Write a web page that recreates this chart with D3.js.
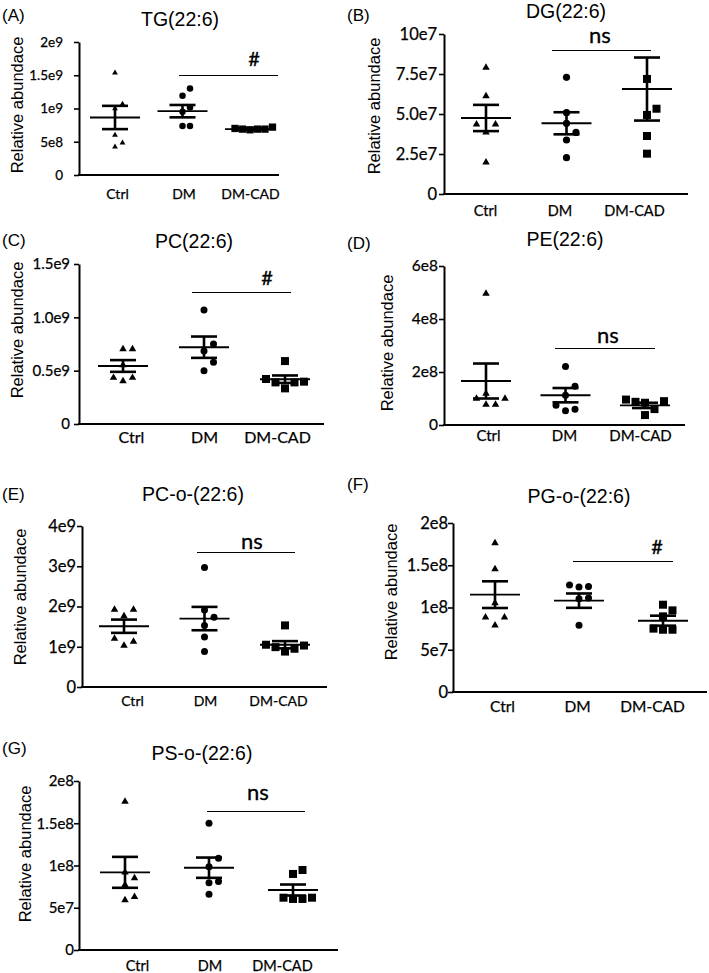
<!DOCTYPE html>
<html><head><meta charset="utf-8">
<script src="https://cdn.jsdelivr.net/npm/d3@7"></script>
<style>body{margin:0;background:#fff}</style>
</head><body><svg id="c" width="709" height="973"></svg>
<script>
const groups = ["Ctrl", "DM", "DM-CAD"];
const yLabel = "Relative abundace";

// (A) TG(22:6)
const tgCtrl = [1.535e9, 1.065e9, 1.0e9, 0.6e9, 0.425e9, 0.485e9];
const tgDM = [1.3e9, 1.19e9, 1.015e9, 0.95e9, 0.735e9, 0.735e9];
const tgCAD = [0.69e9, 0.69e9, 0.72e9, 0.68e9, 0.69e9, 0.70e9];
const tgMean = [0.865e9, 0.96e9, 0.69e9];
const tgSem = [0.175e9, 0.093e9, 0.015e9];
const tgTicks = [0, 5e8, 1e9, 1.5e9, 2e9];
const tgTickLabels = ["0", "5e8", "1e9", "1.5e9", "2e9"];

// (B) DG(22:6)
const dgCtrl = [7.9e7, 6.125e7, 4.35e7, 4.35e7, 3.85e7, 1.98e7];
const dgDM = [7.29e7, 5.08e7, 4.42e7, 3.85e7, 3.375e7, 2.27e7];
const dgCAD = [7.19e7, 5.33e7, 4.94e7, 3.625e7, 2.52e7];
const dgMean = [4.75e7, 4.42e7, 6.56e7];
const dgSem = [0.82e7, 0.69e7, 1.97e7];
const dgTicks = [0, 2.5e7, 5e7, 7.5e7, 10e7];
const dgTickLabels = ["0", "2.5e7", "5.0e7", "7.5e7", "10e7"];

// (C) PC(22:6)
const pcCtrl = [0.703e9, 0.703e9, 0.553e9, 0.434e9, 0.434e9, 0.403e9];
const pcDM = [1.069e9, 0.75e9, 0.684e9, 0.578e9, 0.5e9];
const pcCAD = [0.59e9, 0.422e9, 0.397e9, 0.39e9, 0.39e9, 0.334e9];
const pcMean = [0.544e9, 0.72e9, 0.42e9];
const pcSem = [0.055e9, 0.1e9, 0.035e9];
const pcTicks = [0, 0.5e9, 1.0e9, 1.5e9];
const pcTickLabels = ["0", "0.5e9", "1.0e9", "1.5e9"];

// (D) PE(22:6)
const peCtrl = [4.96e8, 1.19e8, 1.0e8, 1.0e8, 0.775e8, 0.775e8];
const peDM = [2.21e8, 1.46e8, 1.125e8, 0.75e8, 0.54e8, 0.59e8];
const peCAD = [0.96e8, 0.9e8, 0.84e8, 0.875e8, 0.6e8, 0.375e8];
const peMean = [1.66e8, 1.125e8, 0.74e8];
const peSem = [0.66e8, 0.27e8, 0.1e8];
const peTicks = [0, 2e8, 4e8, 6e8];
const peTickLabels = ["0", "2e8", "4e8", "6e8"];

// (E) PC-o-(22:6)
const pcoCtrl = [1.925e9, 1.925e9, 1.76e9, 1.2e9, 1.13e9, 1.03e9];
const pcoDM = [2.97e9, 1.91e9, 1.73e9, 1.53e9, 1.24e9, 0.88e9];
const pcoCAD = [1.53e9, 1.05e9, 0.99e9, 0.95e9, 1.03e9, 0.88e9];
const pcoMean = [1.51e9, 1.7e9, 1.05e9];
const pcoSem = [0.165e9, 0.29e9, 0.09e9];
const pcoTicks = [0, 1e9, 2e9, 3e9, 4e9];
const pcoTickLabels = ["0", "1e9", "2e9", "3e9", "4e9"];

// (F) PG-o-(22:6)
const pgoCtrl = [1.763e8, 1.456e8, 1.053e8, 0.884e8, 0.884e8, 0.789e8];
const pgoDM = [1.266e8, 1.243e8, 1.25e8, 1.112e8, 1.104e8, 0.789e8];
const pgoCAD = [1.033e8, 0.966e8, 0.895e8, 0.75e8, 0.737e8, 0.737e8];
const pgoMean = [1.152e8, 1.081e8, 0.844e8];
const pgoSem = [0.158e8, 0.085e8, 0.059e8];
const pgoTicks = [0, 5e7, 1e8, 1.5e8, 2e8];
const pgoTickLabels = ["0", "5e7", "1e8", "1.5e8", "2e8"];

// (G) PS-o-(22:6)
const psoCtrl = [1.755e8, 0.92e8, 0.85e8, 0.77e8, 0.59e8, 0.63e8];
const psoDM = [1.5e8, 1.085e8, 0.986e8, 0.81e8, 0.797e8, 0.659e8];
const psoCAD = [0.947e8, 0.9e8, 0.619e8, 0.604e8, 0.604e8, 0.619e8];
const psoMean = [0.919e8, 0.974e8, 0.71e8];
const psoSem = [0.183e8, 0.12e8, 0.065e8];
const psoTicks = [0, 5e7, 1e8, 1.5e8, 2e8];
const psoTickLabels = ["0", "5e7", "1e8", "1.5e8", "2e8"];

const panels = [
  {tag:"(A)", title:"TG(22:6)", pts:[tgCtrl,tgDM,tgCAD], mean:tgMean, sem:tgSem, ticks:tgTicks, tl:tgTickLabels, sig:"#",
   L:{x0:79,x1:279,yT:42,yB:175,pt:[115,250],lb:[117,250],tp:11,tf:13.5,xf:14,xdy:24,tx:180,ty:26,gx:2,gy:21,lx:23,ly:105,s:[179,278,75,254,66],tri:5.8,cir:6.5,sq:7.3,sp:7.5}},
  {tag:"(B)", title:"DG(22:6)", pts:[dgCtrl,dgDM,dgCAD], mean:dgMean, sem:dgSem, ticks:dgTicks, tl:dgTickLabels, sig:"ns",
   L:{x0:444,x1:688,yT:34,yB:194,pt:[486,647],lb:[485,634],tp:2,tf:16.5,xf:14.5,xdy:22,tx:566,ty:18,gx:347,gy:21,lx:380,ly:106,s:[552,651,50,600,43],tri:7.5,cir:7.2,sq:8,sp:9.5}},
  {tag:"(C)", title:"PC(22:6)", pts:[pcCtrl,pcDM,pcCAD], mean:pcMean, sem:pcSem, ticks:pcTicks, tl:pcTickLabels, sig:"#",
   L:{x0:79,x1:324,yT:264,yB:424,pt:[123,285],lb:[131,277],tp:4,tf:15,xf:16,xdy:19,tx:194,ty:248,gx:2,gy:246,lx:23,ly:330,s:[192,291,292,267,285],tri:7.5,cir:7,sq:8,sp:9.5}},
  {tag:"(D)", title:"PE(22:6)", pts:[peCtrl,peDM,peCAD], mean:peMean, sem:peSem, ticks:peTicks, tl:peTickLabels, sig:"ns",
   L:{x0:444,x1:685,yT:266,yB:425,pt:[486,645],lb:[488,640],tp:1,tf:15.5,xf:15,xdy:16,tx:565,ty:246,gx:347,gy:249,lx:393,ly:343,s:[555,655,348,608,343],tri:7.5,cir:7,sq:8,sp:9.5}},
  {tag:"(E)", title:"PC-o-(22:6)", pts:[pcoCtrl,pcoDM,pcoCAD], mean:pcoMean, sem:pcoSem, ticks:pcoTicks, tl:pcoTickLabels, sig:"ns",
   L:{x0:82,x1:327,yT:526,yB:687,pt:[124,285],lb:[132,278],tp:1,tf:16.5,xf:14,xdy:19,tx:193,ty:501,gx:2,gy:500,lx:26,ly:597,s:[197,295,552,252,549],tri:7.5,cir:7,sq:8,sp:9.5}},
  {tag:"(F)", title:"PG-o-(22:6)", pts:[pgoCtrl,pgoDM,pgoCAD], mean:pgoMean, sem:pgoSem, ticks:pgoTicks, tl:pgoTickLabels, sig:"#",
   L:{x0:453,x1:707,yT:523,yB:692,pt:[495,663],lb:[502,652],tp:0,tf:16.5,xf:15.5,xdy:20,tx:579,ty:503,gx:347,gy:490,lx:397,ly:592,s:[573,673,561,657,554],tri:7.5,cir:7,sq:8,sp:9.5}},
  {tag:"(G)", title:"PS-o-(22:6)", pts:[psoCtrl,psoDM,psoCAD], mean:psoMean, sem:psoSem, ticks:psoTicks, tl:psoTickLabels, sig:"ns",
   L:{x0:79,x1:338,yT:781,yB:950,pt:[125,293],lb:[137,282],tp:0,tf:15,xf:14.5,xdy:21,tx:202,ty:760,gx:2,gy:754,lx:31,ly:854,s:[207,305,811,258,800],tri:7.5,cir:7,sq:8,sp:9.5}}
];

const svg = d3.select("#c");
svg.append("rect").attr("width",709).attr("height",973).attr("fill","#fff");
const ARIAL = "'Liberation Sans', Arial, sans-serif";
const CAL = "Lato, 'Open Sans', sans-serif";

function jitter(vals, y, sp, hh) {
  const idx = vals.map((v,i)=>i).sort((a,b)=>vals[a]-vals[b]);
  const placed = [], off = new Array(vals.length).fill(0);
  for (const i of idx) {
    const py = y(vals[i]);
    for (let k = 0; k < 30; k++) {
      const o = k === 0 ? 0 : (k % 2 ? Math.ceil(k/2) : -k/2);
      const dx = o * sp;
      if (!placed.some(p => Math.abs(p.dx - dx) < sp*0.9 && Math.abs(p.py - py) < hh)) {
        off[i] = dx; placed.push({dx, py}); break;
      }
    }
  }
  return off;
}

panels.forEach(p => {
  const L = p.L;
  const g = svg.append("g");
  const y = d3.scaleLinear().domain([0, p.ticks[p.ticks.length-1]]).range([L.yB, L.yT]);
  const xp = d3.scalePoint().domain(groups).range(L.pt);
  const xl = d3.scalePoint().domain(groups).range(L.lb);

  g.append("text").attr("x", L.gx).attr("y", L.gy).text(p.tag)
    .attr("font-family", ARIAL).attr("font-size", 17).attr("fill","#000");
  g.append("text").attr("x", L.tx).attr("y", L.ty).text(p.title).attr("text-anchor","middle")
    .attr("font-family", ARIAL).attr("font-size", 19.5).attr("fill","#000");
  g.append("text").attr("transform", `translate(${L.lx},${L.ly}) rotate(-90)`).text(yLabel)
    .attr("text-anchor","middle").attr("font-family", ARIAL).attr("font-size", 16.5).attr("fill","#000");

  const ya = g.append("g").attr("transform", `translate(${L.x0},0)`)
    .call(d3.axisLeft(y).tickValues(p.ticks).tickFormat((d,i)=>p.tl[i]).tickSize(5).tickSizeOuter(0).tickPadding(L.tp));
  ya.attr("font-family", CAL).attr("font-size", L.tf);
  ya.select(".domain").attr("stroke-width", 2).attr("stroke","#000");
  ya.selectAll(".tick line").attr("stroke-width", 1.6).attr("stroke","#000");
  ya.selectAll(".tick text").attr("fill","#000").attr("stroke","#000").attr("stroke-width",0.25);

  g.append("line").attr("x1", L.x0 - 1).attr("x2", L.x1).attr("y1", y(0)).attr("y2", y(0))
    .attr("stroke","#000").attr("stroke-width", 2);
  const xa = g.append("g").attr("transform", `translate(0,${y(0)})`)
    .call(d3.axisBottom(xl).tickSize(0).tickPadding(L.xdy - 0.71*L.xf));
  xa.select(".domain").remove();
  xa.attr("font-family", CAL).attr("font-size", L.xf);
  xa.selectAll(".tick text").attr("fill","#000").attr("stroke","#000").attr("stroke-width",0.25);

  const shapes = [
    d3.symbol().type(d3.symbolTriangle).size(0.433*L.tri*L.tri),
    d3.symbol().type(d3.symbolCircle).size(Math.PI*(L.cir/2)*(L.cir/2)),
    d3.symbol().type(d3.symbolSquare).size(L.sq*L.sq)
  ];
  p.pts.forEach((vals, gi) => {
    const off = jitter(vals, y, L.sp, 10);
    g.append("g").selectAll("path").data(vals).join("path")
      .attr("d", shapes[gi])
      .attr("transform", (d,i) => `translate(${xp(groups[gi]) + off[i]},${y(d)})`)
      .attr("fill","#000");
  });

  groups.forEach((gr, gi) => {
    const cx = xp(gr), m = p.mean[gi], s = p.sem[gi];
    g.append("line").attr("x1", cx-25).attr("x2", cx+25).attr("y1", y(m)).attr("y2", y(m))
      .attr("stroke","#000").attr("stroke-width", 1.9);
    g.append("line").attr("x1", cx).attr("x2", cx).attr("y1", y(m+s)).attr("y2", y(m-s))
      .attr("stroke","#000").attr("stroke-width", 2.6);
    [m+s, m-s].forEach(v => g.append("line").attr("x1", cx-13).attr("x2", cx+13).attr("y1", y(v)).attr("y2", y(v))
      .attr("stroke","#000").attr("stroke-width", 2.6));
  });

  g.append("line").attr("x1", L.s[0]).attr("x2", L.s[1]).attr("y1", L.s[2] + 0.5).attr("y2", L.s[2] + 0.5)
    .attr("stroke","#000").attr("stroke-width", 1.1);
  g.append("text").attr("x", L.s[3]).attr("y", L.s[4]).text(p.sig).attr("text-anchor","middle")
    .attr("font-family", CAL).attr("font-size", p.sig === "#" ? 20 : 22).attr("fill","#000")
    .attr("stroke","#000").attr("stroke-width",0.3);
});
</script></body></html>
